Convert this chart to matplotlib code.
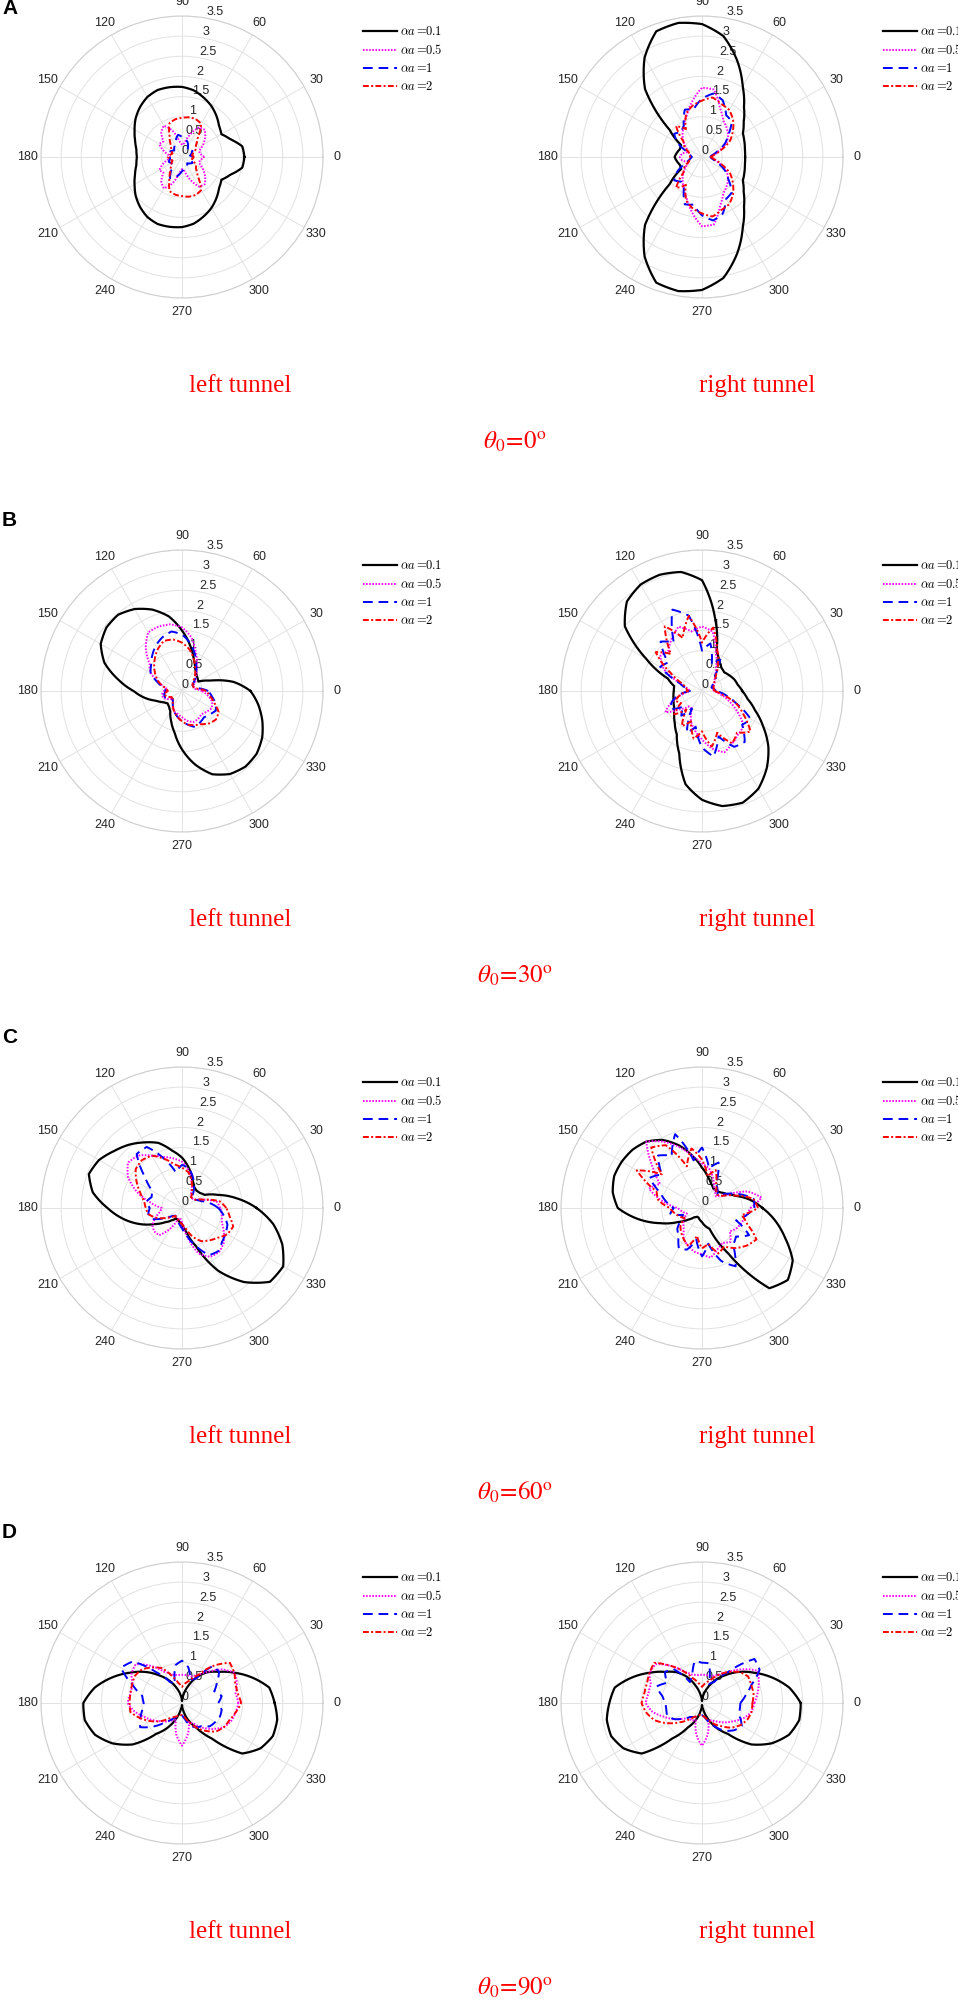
import numpy as np
import matplotlib
matplotlib.use("Agg")
import matplotlib.pyplot as plt

plt.rcParams["mathtext.fontset"] = "cm"

# angles of the read-off points (deg)
theta_deg = np.arange(0, 360, 10)
alpha_labels = ["0.1", "0.5", "1", "2"]
theta0_values = [0, 30, 60, 90]
panel_letters = ["A", "B", "C", "D"]
r_ticks = [0, 0.5, 1, 1.5, 2, 2.5, 3, 3.5]
r_tick_labels = ["0", "0.5", "1", "1.5", "2", "2.5", "3", "3.5"]
theta_ticks = list(range(0, 360, 30))

# ---- theta0 = 0 ----
a_left_01 = [1.55, 1.52, 1.28, 1.13, 1.20, 1.33, 1.46, 1.57, 1.68, 1.74, 1.76, 1.77, 1.72, 1.62, 1.50, 1.36, 1.24, 1.15,
             1.12, 1.15, 1.24, 1.36, 1.50, 1.62, 1.72, 1.77, 1.76, 1.74, 1.68, 1.57, 1.46, 1.33, 1.20, 1.13, 1.28, 1.52]
a_left_05 = [0.55, 0.45, 0.45, 0.6, 0.75, 0.88, 0.85, 0.6, 0.35, 0.3, 0.4, 0.7, 0.9, 0.8, 0.6, 0.65, 0.5, 0.35,
             0.3, 0.35, 0.5, 0.65, 0.6, 0.8, 0.9, 0.7, 0.4, 0.3, 0.35, 0.6, 0.85, 0.88, 0.75, 0.6, 0.45, 0.45]
a_left_1 = [0.27, 0.2, 0.25, 0.3, 0.25, 0.2, 0.3, 0.4, 0.45, 0.5, 0.56, 0.45, 0.35, 0.3, 0.25, 0.3, 0.35, 0.3,
            0.3, 0.3, 0.35, 0.3, 0.3, 0.4, 0.6, 0.55, 0.45, 0.35, 0.3, 0.25, 0.25, 0.2, 0.25, 0.3, 0.25, 0.2]
a_left_2 = [0.3, 0.25, 0.3, 0.4, 0.45, 0.6, 0.95, 1.0, 1.0, 0.97, 0.95, 0.9, 0.62, 0.45, 0.35, 0.3, 0.25, 0.3,
            0.35, 0.3, 0.25, 0.3, 0.35, 0.45, 0.62, 0.9, 0.95, 0.97, 1.0, 1.0, 0.95, 0.6, 0.45, 0.4, 0.3, 0.25]

a_right_01 = [1.07, 1.08, 1.12, 1.17, 1.35, 1.62, 2.02, 2.55, 3.05, 3.3, 3.38, 3.32, 2.85, 2.2, 1.05, 0.6, 0.58, 0.63,
              0.68, 0.63, 0.58, 0.6, 1.05, 2.2, 2.85, 3.32, 3.38, 3.3, 3.05, 2.55, 2.02, 1.62, 1.35, 1.17, 1.12, 1.08]
a_right_05 = [0.2, 0.3, 0.45, 0.7, 0.85, 0.95, 1.05, 1.3, 1.7, 1.72, 1.4, 1.1, 0.9, 0.75, 0.6, 0.45, 0.35, 0.5,
              0.55, 0.5, 0.35, 0.45, 0.6, 0.75, 0.9, 1.1, 1.4, 1.72, 1.7, 1.3, 1.05, 0.95, 0.85, 0.7, 0.45, 0.3]
a_right_1 = [0.2, 0.25, 0.4, 0.65, 0.85, 1.15, 1.2, 1.5, 1.6, 1.45, 1.2, 1.25, 0.9, 0.8, 0.9, 0.7, 0.4, 0.3,
             0.25, 0.3, 0.4, 0.7, 0.9, 0.8, 0.9, 1.25, 1.2, 1.45, 1.6, 1.5, 1.2, 1.15, 0.85, 0.65, 0.4, 0.25]
a_right_2 = [0.2, 0.3, 0.5, 0.8, 1.0, 1.2, 1.35, 1.4, 1.5, 1.4, 1.3, 1.15, 0.8, 1.0, 0.6, 0.5, 0.35, 0.3,
             0.3, 0.3, 0.35, 0.5, 0.6, 1.0, 0.8, 1.15, 1.3, 1.4, 1.5, 1.4, 1.35, 1.2, 1.0, 0.8, 0.5, 0.3]

# ---- theta0 = 30 ----
b_left_01 = [1.70, 1.3, 0.75, 0.47, 0.5, 0.55, 0.65, 0.85, 1.15, 1.5, 1.88, 2.15, 2.35, 2.47, 2.45, 2.33, 2.05, 1.6,
             1.2, 0.95, 0.7, 0.55, 0.47, 0.5, 0.58, 0.79, 1.05, 1.45, 1.85, 2.2, 2.38, 2.45, 2.42, 2.3, 2.12, 1.92]
b_left_05 = [0.5, 0.3, 0.3, 0.35, 0.45, 0.55, 0.75, 1.0, 1.35, 1.58, 1.68, 1.7, 1.68, 1.4, 1.05, 0.9, 0.6, 0.4,
             0.45, 0.5, 0.5, 0.4, 0.3, 0.35, 0.45, 0.55, 0.58, 0.65, 0.75, 0.82, 0.8, 0.75, 0.8, 0.85, 0.8, 0.65]
b_left_1 = [0.65, 0.4, 0.3, 0.3, 0.4, 0.55, 0.7, 0.95, 1.2, 1.4, 1.5, 1.42, 1.3, 1.15, 1.0, 0.9, 0.65, 0.45,
            0.4, 0.45, 0.45, 0.35, 0.3, 0.35, 0.45, 0.55, 0.65, 0.75, 0.85, 0.95, 0.9, 0.85, 0.9, 0.97, 0.88, 0.75]
b_left_2 = [0.6, 0.35, 0.3, 0.3, 0.35, 0.5, 0.65, 0.85, 1.05, 1.2, 1.3, 1.32, 1.2, 1.05, 0.9, 0.75, 0.6, 0.4,
            0.35, 0.45, 0.4, 0.3, 0.3, 0.35, 0.45, 0.55, 0.65, 0.75, 0.85, 0.9, 0.95, 1.05, 1.1, 1.05, 0.85, 0.7]

b_right_01 = [1.0, 0.9, 0.85, 0.78, 0.72, 0.75, 0.85, 1.05, 1.85, 2.75, 3.0, 3.07, 3.05, 2.9, 2.5, 1.6, 0.9, 0.7,
              0.7, 0.72, 0.75, 0.8, 0.9, 1.05, 1.25, 1.65, 2.35, 2.7, 2.9, 2.95, 2.8, 2.5, 2.15, 1.75, 1.4, 1.15]
b_right_05 = [0.3, 0.25, 0.3, 0.35, 0.4, 0.5, 0.7, 1.0, 1.5, 1.6, 1.5, 1.7, 1.5, 1.3, 1.35, 1.1, 0.6, 0.35,
              0.3, 0.5, 0.8, 1.05, 0.7, 0.5, 0.5, 0.8, 1.0, 1.2, 1.45, 1.62, 1.5, 1.4, 1.35, 1.0, 0.7, 0.45]
b_right_1 = [0.35, 0.3, 0.25, 0.3, 0.45, 0.5, 0.9, 0.7, 1.2, 1.0, 1.9, 2.15, 1.4, 1.6, 1.1, 1.2, 0.6, 0.4,
             0.3, 0.6, 0.8, 0.9, 0.6, 0.8, 0.5, 1.1, 0.9, 1.4, 1.65, 1.2, 1.6, 1.65, 1.3, 1.4, 0.9, 0.6]
b_right_2 = [0.3, 0.3, 0.3, 0.35, 0.4, 0.55, 0.8, 1.1, 1.6, 1.2, 1.89, 1.4, 1.85, 1.2, 1.5, 0.9, 0.5, 0.4,
             0.35, 0.55, 0.7, 0.6, 0.9, 0.6, 1.0, 0.8, 1.2, 1.0, 1.4, 1.1, 1.5, 1.35, 1.57, 1.2, 0.9, 0.5]

# ---- theta0 = 60 ----
c_left_01 = [1.85, 1.38, 0.95, 0.65, 0.58, 0.56, 0.6, 0.75, 1.0, 1.25, 1.45, 1.72, 1.88, 2.05, 2.2, 2.38, 2.46, 2.25,
             1.85, 1.5, 1.15, 0.8, 0.55, 0.4, 0.3, 0.3, 0.35, 0.4, 0.6, 1.0, 1.8, 2.4, 2.85, 2.9, 2.65, 2.3]
c_left_05 = [0.95, 0.88, 0.6, 0.4, 0.35, 0.35, 0.45, 0.7, 0.95, 1.15, 1.25, 1.35, 1.5, 1.7, 1.75, 1.55, 1.2, 0.8,
             0.5, 0.55, 0.7, 0.85, 0.9, 0.88, 0.6, 0.3, 0.25, 0.35, 0.7, 1.2, 1.4, 1.43, 1.35, 1.2, 1.05, 1.0]
c_left_1 = [0.9, 0.7, 0.5, 0.4, 0.35, 0.4, 0.6, 0.8, 1.0, 1.07, 0.9, 1.3, 1.75, 1.75, 1.2, 0.85, 0.8, 0.9,
            0.8, 0.85, 0.8, 0.5, 0.3, 0.25, 0.3, 0.35, 0.4, 0.5, 0.7, 1.0, 1.35, 1.4, 1.3, 1.25, 1.2, 1.05]
c_left_2 = [1.1, 0.95, 0.6, 0.4, 0.35, 0.35, 0.5, 0.7, 0.9, 1.0, 1.1, 1.3, 1.5, 1.55, 1.5, 1.3, 1.1, 0.95,
            0.9, 0.85, 0.7, 0.5, 0.35, 0.25, 0.3, 0.3, 0.35, 0.4, 0.5, 0.75, 0.95, 1.05, 1.15, 1.3, 1.35, 1.2]

c_right_01 = [1.5, 1.2, 0.88, 0.7, 0.6, 0.55, 0.56, 0.65, 0.8, 1.0, 1.3, 1.65, 1.95, 2.15, 2.25, 2.3, 2.32, 2.25,
              2.09, 1.6, 1.1, 0.7, 0.45, 0.3, 0.25, 0.25, 0.3, 0.35, 0.45, 0.55, 1.3, 2.6, 2.78, 2.6, 2.2, 1.85]
c_right_05 = [1.2, 1.5, 1.2, 0.6, 0.45, 0.5, 0.6, 0.8, 1.0, 1.1, 1.3, 1.6, 1.9, 2.15, 1.6, 1.2, 1.4, 1.0,
              0.6, 0.5, 0.4, 0.5, 0.6, 0.7, 0.9, 1.0, 1.1, 1.15, 1.25, 1.1, 1.0, 1.1, 0.9, 1.0, 1.05, 1.1]
c_right_1 = [1.3, 1.3, 1.0, 0.7, 0.5, 0.6, 0.7, 1.2, 1.0, 1.5, 1.2, 1.95, 1.5, 1.7, 1.3, 1.5, 1.1, 0.9,
             0.7, 0.8, 0.5, 0.6, 0.8, 0.9, 1.15, 1.1, 0.8, 1.2, 0.9, 1.4, 1.67, 1.2, 1.1, 1.35, 0.9, 1.1]
c_right_2 = [1.39, 1.3, 0.9, 0.6, 0.5, 0.55, 0.7, 1.0, 0.8, 1.2, 1.5, 1.1, 1.8, 1.96, 1.3, 1.87, 1.2, 1.1,
             0.8, 0.7, 0.6, 0.5, 0.7, 0.8, 0.9, 1.0, 0.7, 1.0, 0.9, 1.2, 1.1, 1.3, 1.45, 1.56, 1.2, 1.0]

# ---- theta0 = 90 ----
d_left_01 = [2.3, 2.2, 1.85, 1.5, 1.2, 1.0, 0.75, 0.45, 0.2, 0.05, 0.2, 0.4, 0.65, 0.9, 1.2, 1.5, 1.85, 2.2,
             2.45, 2.45, 2.3, 2.0, 1.6, 1.0, 0.7, 0.4, 0.15, 0.05, 0.2, 0.45, 0.7, 1.15, 1.95, 2.25, 2.4, 2.4]
d_left_05 = [1.4, 1.35, 1.45, 1.5, 1.3, 1.0, 0.8, 0.7, 0.7, 0.7, 0.7, 0.75, 0.9, 1.2, 1.5, 1.45, 1.3, 1.3,
             1.35, 1.2, 1.0, 0.85, 0.7, 0.6, 0.5, 0.45, 0.8, 1.06, 0.8, 0.5, 0.6, 0.8, 1.0, 1.2, 1.3, 1.35]
d_left_1 = [0.9, 1.0, 0.85, 1.0, 1.2, 1.2, 0.7, 0.6, 0.9, 1.05, 0.95, 0.5, 0.6, 1.0, 1.6, 1.75, 1.3, 1.0,
            0.95, 1.0, 1.1, 1.2, 0.9, 0.6, 0.45, 0.35, 0.3, 0.3, 0.4, 0.6, 0.7, 0.75, 0.9, 0.95, 1.0, 1.0]
d_left_2 = [1.47, 1.4, 1.4, 1.5, 1.55, 1.2, 0.8, 0.6, 0.5, 0.4, 0.5, 0.7, 1.0, 1.15, 1.3, 1.35, 1.32, 1.3,
            1.3, 1.3, 1.1, 0.9, 0.7, 0.5, 0.4, 0.35, 0.3, 0.3, 0.35, 0.5, 0.7, 0.9, 1.1, 1.2, 1.25, 1.35]

d_right_01 = [2.45, 2.2, 1.85, 1.5, 1.2, 0.9, 0.65, 0.4, 0.2, 0.05, 0.2, 0.45, 0.75, 1.0, 1.2, 1.5, 1.85, 2.2,
              2.3, 2.4, 2.4, 2.25, 1.95, 1.15, 0.7, 0.45, 0.2, 0.05, 0.15, 0.4, 0.7, 1.0, 1.6, 2.0, 2.3, 2.45]
d_right_05 = [1.3, 1.4, 1.5, 1.6, 1.3, 1.0, 0.8, 0.7, 0.7, 0.7, 0.7, 0.75, 0.9, 1.2, 1.5, 1.5, 1.35, 1.35,
              1.4, 1.25, 1.0, 0.8, 0.6, 0.5, 0.5, 0.45, 0.8, 1.06, 0.8, 0.45, 0.5, 0.6, 0.75, 0.9, 1.1, 1.25]
d_right_1 = [0.95, 1.1, 1.3, 1.65, 1.7, 1.0, 0.6, 0.5, 1.0, 1.0, 1.05, 0.7, 0.6, 1.1, 1.2, 1.0, 1.2, 1.0,
             0.9, 0.9, 0.92, 0.8, 0.6, 0.45, 0.4, 0.35, 0.3, 0.3, 0.35, 0.5, 0.7, 0.9, 1.05, 1.14, 1.0, 0.95]
d_right_2 = [1.25, 1.3, 1.3, 1.32, 1.2, 1.0, 0.8, 0.6, 0.5, 0.4, 0.5, 0.65, 0.9, 1.2, 1.55, 1.5, 1.45, 1.45,
             1.5, 1.4, 1.25, 1.0, 0.75, 0.55, 0.4, 0.35, 0.3, 0.3, 0.35, 0.45, 0.6, 0.75, 0.95, 1.1, 1.2, 1.25]

rows = [
    [[a_left_01, a_left_05, a_left_1, a_left_2], [a_right_01, a_right_05, a_right_1, a_right_2]],
    [[b_left_01, b_left_05, b_left_1, b_left_2], [b_right_01, b_right_05, b_right_1, b_right_2]],
    [[c_left_01, c_left_05, c_left_1, c_left_2], [c_right_01, c_right_05, c_right_1, c_right_2]],
    [[d_left_01, d_left_05, d_left_1, d_left_2], [d_right_01, d_right_05, d_right_1, d_right_2]],
]

# styles per alpha*a
line_colors = ["#000000", "#ff00ff", "#0000ff", "#ff0000"]
line_dashes = [None, (0.8, 0.8), (5, 3), (3, 1.2, 1, 1.2)]
line_widths = [1.6, 1.4, 1.4, 1.4]

# layout in pixels
W, H = 958, 2000
R = 141
centers_y = [157, 691, 1208, 1703]
centers_x = [182, 702]
tunnel_x = [240, 757]
tunnel_names = ["left tunnel", "right tunnel"]
tick_color = "#262626"

fig = plt.figure(figsize=(W / 100, H / 100), dpi=100)
fig.patch.set_facecolor("white")


def fx(x):
    return x / W


def fy(y):
    return 1 - y / H


for i, cy in enumerate(centers_y):
    for j, cx in enumerate(centers_x):
        ax = fig.add_axes([fx(cx - R), fy(cy + R), 2 * R / W, 2 * R / H], projection="polar")
        th = np.deg2rad(np.append(theta_deg, 360))
        for k, vals in enumerate(rows[i][j]):
            r = np.append(vals, vals[0])
            line, = ax.plot(th, r, color=line_colors[k], lw=line_widths[k],
                            label=r"$\alpha a =\!\!" + alpha_labels[k] + "$")
            if line_dashes[k] is not None:
                line.set_dashes(line_dashes[k])
            # let the polar transform draw each segment as a curve
            line.get_path()._interpolation_steps = 30
        ax.set_ylim(0, 3.5)
        ax.set_yticks(r_ticks)
        ax.set_yticklabels(r_tick_labels)
        ax.set_rlabel_position(80)
        ax.set_thetagrids(theta_ticks, labels=[str(t) for t in theta_ticks])
        ax.grid(color="#e2e2e2", lw=0.7)
        ax.spines["polar"].set_color("#cfcfcf")
        ax.spines["polar"].set_linewidth(0.8)
        ax.tick_params(axis="x", pad=-0.5, labelsize=9, labelcolor=tick_color)
        ax.tick_params(axis="y", labelsize=9, labelcolor=tick_color)
        for lab in ax.get_xticklabels() + ax.get_yticklabels():
            lab.set_family("Liberation Sans")

        ax.legend(loc="upper left", bbox_to_anchor=(fx(cx + R + 40), fy(cy - R + 9)),
                  bbox_transform=fig.transFigure, frameon=False, fontsize=9,
                  handlelength=2.7, handletextpad=0.25, labelspacing=0.4,
                  borderaxespad=0, borderpad=0)

        fig.text(fx(tunnel_x[j]), fy(cy + 235), tunnel_names[j], color="red", fontsize=18,
                 family="Liberation Serif", ha="center", va="baseline")

    fig.text(fx(515), fy(cy + 292), r"$\theta_0\!=\!" + str(theta0_values[i]) + r"^{\mathrm{o}}$",
             color="red", fontsize=18, math_fontfamily="stix", ha="center", va="baseline")
    fig.text(fx(2), fy(cy - R - (2 if i == 0 else 24)), panel_letters[i], fontsize=15,
             fontweight="bold", family="Liberation Sans", ha="left", va="baseline")

fig.savefig("out.png", dpi=100, facecolor="white")
